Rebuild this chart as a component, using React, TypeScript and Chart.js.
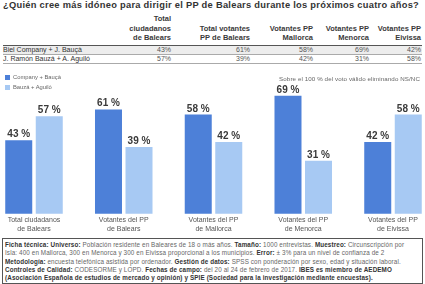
import React, { useEffect, useRef } from "react";
import { Chart, registerables } from "chart.js";

Chart.register(...registerables);

const titleText = "¿Quién cree más idóneo para dirigir el PP de Balears durante los próximos cuatro años?";
const categories: string[][] = [
  ["Total ciudadanos", "de Balears"],
  ["Votantes del PP", "de Balears"],
  ["Votantes del PP", "de Mallorca"],
  ["Votantes del PP", "de Menorca"],
  ["Votantes del PP", "de Eivissa"],
];
const seriesLabels = ["Company + Bauçà", "Bauzá + Aguiló"];
const companyValues = [43, 61, 58, 69, 42];
const bauzaValues = [57, 39, 42, 31, 58];
const tableHeaders: string[][] = [
  ["Total", "ciudadanos", "de Balears"],
  ["Total votantes", "PP de Balears"],
  ["Votantes PP", "Mallorca"],
  ["Votantes PP", "Menorca"],
  ["Votantes PP", "Eivissa"],
];
const rowLabels = ["Biel Company + J. Bauçà", "J. Ramón Bauzá + A. Aguiló"];
const noteText = "Sobre el 100 % del voto válido eliminando NS/NC";
const footerLines: [string, string][][] = [
  [["Ficha técnica: ", "b"], ["Universo: ", "b"], ["Población residente en Baleares de 18 o más años. ", ""], ["Tamaño: ", "b"], ["1000 entrevistas. ", ""], ["Muestreo: ", "b"], ["Circunscripción por", ""]],
  [["Isla: 400 en Mallorca, 300 en Menorca y 300 en Eivissa proporcional a los municipios. ", ""], ["Error: ", "b"], ["± 3% para un nivel de confianza de 2", ""]],
  [["Metodología: ", "b"], ["encuesta telefónica asistida por ordenador. ", ""], ["Gestión de datos: ", "b"], ["SPSS con ponderación por sexo, edad y situación laboral.", ""]],
  [["Controles de Calidad: ", "b"], ["CODESORME y LOPD. ", ""], ["Fechas de campo: ", "b"], ["del 20 al 24 de febrero de 2017. ", ""], ["IBES es miembro de AEDEMO", "b"]],
  [["(Asociación Española de estudios de mercado y opinión) y SPIE (Sociedad para la investigación mediante encuestas).", "b"]],
];

const DARK = "#4d80d8";
const LIGHT = "#a7c9f3";
const FONT = "'Liberation Sans', Arial, sans-serif";

const colRight = [171, 250, 313, 369, 421];

const valueLabelPlugin = {
  id: "valueLabels",
  afterDatasetsDraw(chart: any) {
    const ctx = chart.ctx;
    ctx.save();
    ctx.font = `bold 10px ${FONT}`;
    ctx.fillStyle = "#3a3a3a";
    ctx.textAlign = "center";
    ctx.textBaseline = "alphabetic";
    chart.data.datasets.forEach((ds: any, di: number) => {
      const meta = chart.getDatasetMeta(di);
      meta.data.forEach((el: any, i: number) => {
        ctx.fillText(`${ds.data[i]} %`, el.x, el.y - 3);
      });
    });
    ctx.restore();
  },
};

function BarChart() {
  const ref = useRef<HTMLCanvasElement | null>(null);
  useEffect(() => {
    if (!ref.current) return;
    const chart = new Chart(ref.current, {
      type: "bar",
      data: {
        labels: categories,
        datasets: [
          { label: seriesLabels[0], data: companyValues, backgroundColor: DARK, categoryPercentage: 0.68, barPercentage: 0.885, clip: false },
          { label: seriesLabels[1], data: bauzaValues, backgroundColor: LIGHT, categoryPercentage: 0.68, barPercentage: 0.885, clip: false },
        ],
      },
      options: {
        animation: false,
        responsive: true,
        maintainAspectRatio: false,
        layout: { padding: { left: 34, right: 32, top: 11, bottom: 0 } },
        plugins: { legend: { display: false }, tooltip: { enabled: false } },
        scales: {
          x: {
            offset: false,
            grid: { display: false, drawTicks: false },
            border: { display: false },
            ticks: { font: { size: 7, family: FONT, lineHeight: 1.3 }, color: "#555", padding: 2, maxRotation: 0, autoSkip: false },
          },
          y: { display: false, min: 0, max: 80 },
        },
      },
      plugins: [valueLabelPlugin],
    });
    return () => chart.destroy();
  }, []);
  return <canvas ref={ref} />;
}

export default function App() {
  useEffect(() => {
    document.body.style.margin = "0";
  }, []);
  const abs = (s: React.CSSProperties): React.CSSProperties => ({ position: "absolute", whiteSpace: "nowrap", ...s });
  return (
    <div style={{ position: "relative", width: 425, height: 284, background: "#fff", overflow: "hidden", fontFamily: FONT, color: "#333" }}>
      <div style={abs({ left: 3, top: 0, fontSize: 9.3, letterSpacing: 0.28, fontWeight: "bold", lineHeight: "11px", color: "#333" })}>{titleText}</div>

      {tableHeaders.map((lines, ci) =>
        lines.map((t, li) => (
          <div key={`h${ci}-${li}`} style={abs({ right: 425 - colRight[ci], top: 37 - (lines.length - 1 - li) * 9.5 - 4, fontSize: 7.5, fontWeight: "bold", lineHeight: "9px", color: "#3a3a3a" })}>{t}</div>
        ))
      )}
      <div style={abs({ left: 3, width: 419, top: 45, height: 1, background: "#555" })} />
      <div style={abs({ left: 3, width: 419, top: 46, height: 8, background: "#ededed" })} />
      <div style={abs({ left: 3, width: 419, top: 54, height: 1, background: "#aaa" })} />
      <div style={abs({ left: 3, width: 419, top: 63, height: 1, background: "#aaa" })} />
      {rowLabels.map((r, ri) => {
        const vals = ri === 0 ? companyValues : bauzaValues;
        return (
          <React.Fragment key={`r${ri}`}>
            <div style={abs({ left: 3, top: 46 + ri * 9, fontSize: 7, lineHeight: "8px", color: "#333" })}>{r}</div>
            {vals.map((v, ci) => (
              <div key={`v${ri}-${ci}`} style={abs({ right: 425 - colRight[ci], top: 46 + ri * 9, fontSize: 7, lineHeight: "8px", color: "#555" })}>{`${v}%`}</div>
            ))}
          </React.Fragment>
        );
      })}

      <div style={abs({ left: 0, top: 66, width: 425, height: 170 })}>
        <BarChart />
      </div>

      {seriesLabels.map((s, i) => (
        <div key={`l${i}`} style={abs({ left: 5, top: 74 + i * 10, fontSize: 5.8, lineHeight: "7px", color: "#666", display: "flex", alignItems: "center" })}>
          <span style={{ display: "inline-block", width: 5, height: 5, background: i === 0 ? DARK : LIGHT, marginRight: 3 }} />
          {s}
        </div>
      ))}
      <div style={abs({ right: 5, top: 75, fontSize: 6.2, letterSpacing: 0.1, lineHeight: "7px", color: "#666" })}>{noteText}</div>

      <div style={abs({ left: 2, top: 238, width: 419, height: 44, border: "1px solid #555" })} />
      {footerLines.map((line, li) => (
        <div key={`f${li}`} style={abs({ left: 5, top: 241 + li * 8.3, fontSize: 6.3, letterSpacing: 0.12, lineHeight: "8px", color: "#666" })}>
          {line.map(([t, w], k) => (
            <span key={k} style={w === "b" ? { fontWeight: "bold", color: "#333" } : undefined}>{t}</span>
          ))}
        </div>
      ))}
    </div>
  );
}
